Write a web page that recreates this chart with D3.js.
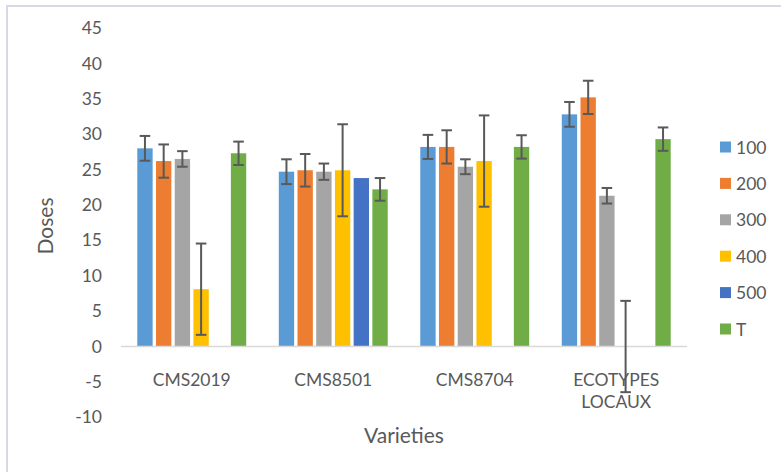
<!DOCTYPE html>
<html>
<head>
<meta charset="utf-8">
<script src="https://cdn.jsdelivr.net/npm/d3@7"></script>
<style>
  body { margin: 0; background: #fff; }
  text { font-family: Lato, "Liberation Sans", Arial, sans-serif; fill: #595959; }
</style>
</head>
<body>
<svg id="chart" width="781" height="472"></svg>
<script>
var categories = ["CMS2019", "CMS8501", "CMS8704", "ECOTYPES LOCAUX"];
var seriesNames = ["100", "200", "300", "400", "500", "T"];
var seriesColors = ["#5B9BD5", "#ED7D31", "#A5A5A5", "#FFC000", "#4472C4", "#70AD47"];

var v100 = [28.0, 24.7, 28.2, 32.8];
var v200 = [26.2, 24.9, 28.2, 35.2];
var v300 = [26.5, 24.7, 25.4, 21.3];
var v400 = [8.1, 24.9, 26.2, 0];
var v500 = [null, 23.8, null, null];
var vT = [27.3, 22.2, 28.2, 29.3];

var e100 = [1.75, 1.75, 1.7, 1.75];
var e200 = [2.35, 2.3, 2.35, 2.35];
var e300 = [1.1, 1.15, 1.05, 1.1];
var e400 = [6.45, 6.5, 6.45, 6.45];
var e500 = [0, 0, 0, 0];
var eT = [1.65, 1.6, 1.65, 1.65];

var yTicks = [-10, -5, 0, 5, 10, 15, 20, 25, 30, 35, 40, 45];

var values = [v100, v200, v300, v400, v500, vT];
var errors = [e100, e200, e300, e400, e500, eT];

var svg = d3.select("#chart");

// outer chart border
svg.append("rect")
  .attr("x", 7).attr("y", 6).attr("width", 800).attr("height", 500)
  .attr("fill", "none").attr("stroke", "#D9D9E6").attr("stroke-width", 2);

var x0 = d3.scaleBand().domain(categories).range([121, 687]);
var x1 = d3.scaleBand().domain(seriesNames).range([0, x0.bandwidth()])
  .paddingInner(0.18).paddingOuter(0.87);
var y = d3.scaleLinear().domain([-10, 45]).range([417.3, 28]);

// y axis labels (plain hyphen for negatives, as in the original)
var yAxis = d3.axisLeft(y).tickValues(yTicks).tickSize(0).tickPadding(19)
  .tickFormat(function (d) { return String(d); });
var gy = svg.append("g").attr("transform", "translate(121,0)").call(yAxis);
gy.select(".domain").remove();
gy.selectAll("text").style("font-size", "17.5px").attr("fill", "#595959")
  .style("font-family", "Lato, 'Liberation Sans', Arial, sans-serif");

// bars
var data = [];
for (var i = 0; i < categories.length; i++) {
  for (var s = 0; s < seriesNames.length; s++) {
    var v = values[s][i];
    if (v == null) continue;
    data.push({ cat: categories[i], ser: seriesNames[s], color: seriesColors[s], value: v, err: errors[s][i] });
  }
}

var gBars = svg.append("g");
gBars.selectAll("rect")
  .data(data.filter(function (d) { return d.value != 0; }))
  .enter()
  .append("rect")
  .attr("x", function (d) { return x0(d.cat) + x1(d.ser); })
  .attr("y", function (d) { return y(Math.max(0, d.value)); })
  .attr("width", x1.bandwidth())
  .attr("height", function (d) { return Math.abs(y(d.value) - y(0)); })
  .attr("fill", function (d) { return d.color; });

// zero line
svg.append("line")
  .attr("x1", 121).attr("x2", 687).attr("y1", y(0)).attr("y2", y(0))
  .attr("stroke", "#D9D9D9").attr("stroke-width", 1.5);

// error bars
var capW = 5.3;
var gErr = svg.append("g").attr("stroke", "#595959").attr("stroke-width", 2);
var withErr = data.filter(function (d) { return d.err > 0; });
withErr.forEach(function (d) {
  var cx = x0(d.cat) + x1(d.ser) + x1.bandwidth() / 2;
  var top = y(d.value + d.err), bot = y(d.value - d.err);
  gErr.append("line").attr("x1", cx).attr("x2", cx).attr("y1", top).attr("y2", bot);
  gErr.append("line").attr("x1", cx - capW).attr("x2", cx + capW).attr("y1", top).attr("y2", top);
  gErr.append("line").attr("x1", cx - capW).attr("x2", cx + capW).attr("y1", bot).attr("y2", bot);
});

// category labels
var gCat = svg.append("g");
categories.forEach(function (c) {
  var words = c.split(" ");
  var t = gCat.append("text")
    .attr("x", x0(c) + x0.bandwidth() / 2)
    .attr("y", 386)
    .attr("text-anchor", "middle")
    .style("font-size", "17.5px");
  words.forEach(function (w, k) {
    t.append("tspan").attr("x", x0(c) + x0.bandwidth() / 2).attr("dy", k == 0 ? 0 : 22).text(w);
  });
});

// axis titles
svg.append("text")
  .attr("transform", "translate(53,226) rotate(-90)")
  .attr("text-anchor", "middle")
  .style("font-size", "21px")
  .text("Doses");
svg.append("text")
  .attr("x", 404).attr("y", 443)
  .attr("text-anchor", "middle")
  .style("font-size", "21px")
  .text("Varieties");

// legend
var legend = svg.append("g").attr("transform", "translate(720,0)");
var legendY = d3.scalePoint().domain(seriesNames).range([147, 329]);
seriesNames.forEach(function (n, k) {
  legend.append("rect")
    .attr("x", 0).attr("y", legendY(n) - 5.5).attr("width", 11).attr("height", 11)
    .attr("fill", seriesColors[k]);
  legend.append("text")
    .attr("x", 16).attr("y", legendY(n) + 6.5)
    .style("font-size", "17.5px")
    .text(n);
});
</script>
</body>
</html>
